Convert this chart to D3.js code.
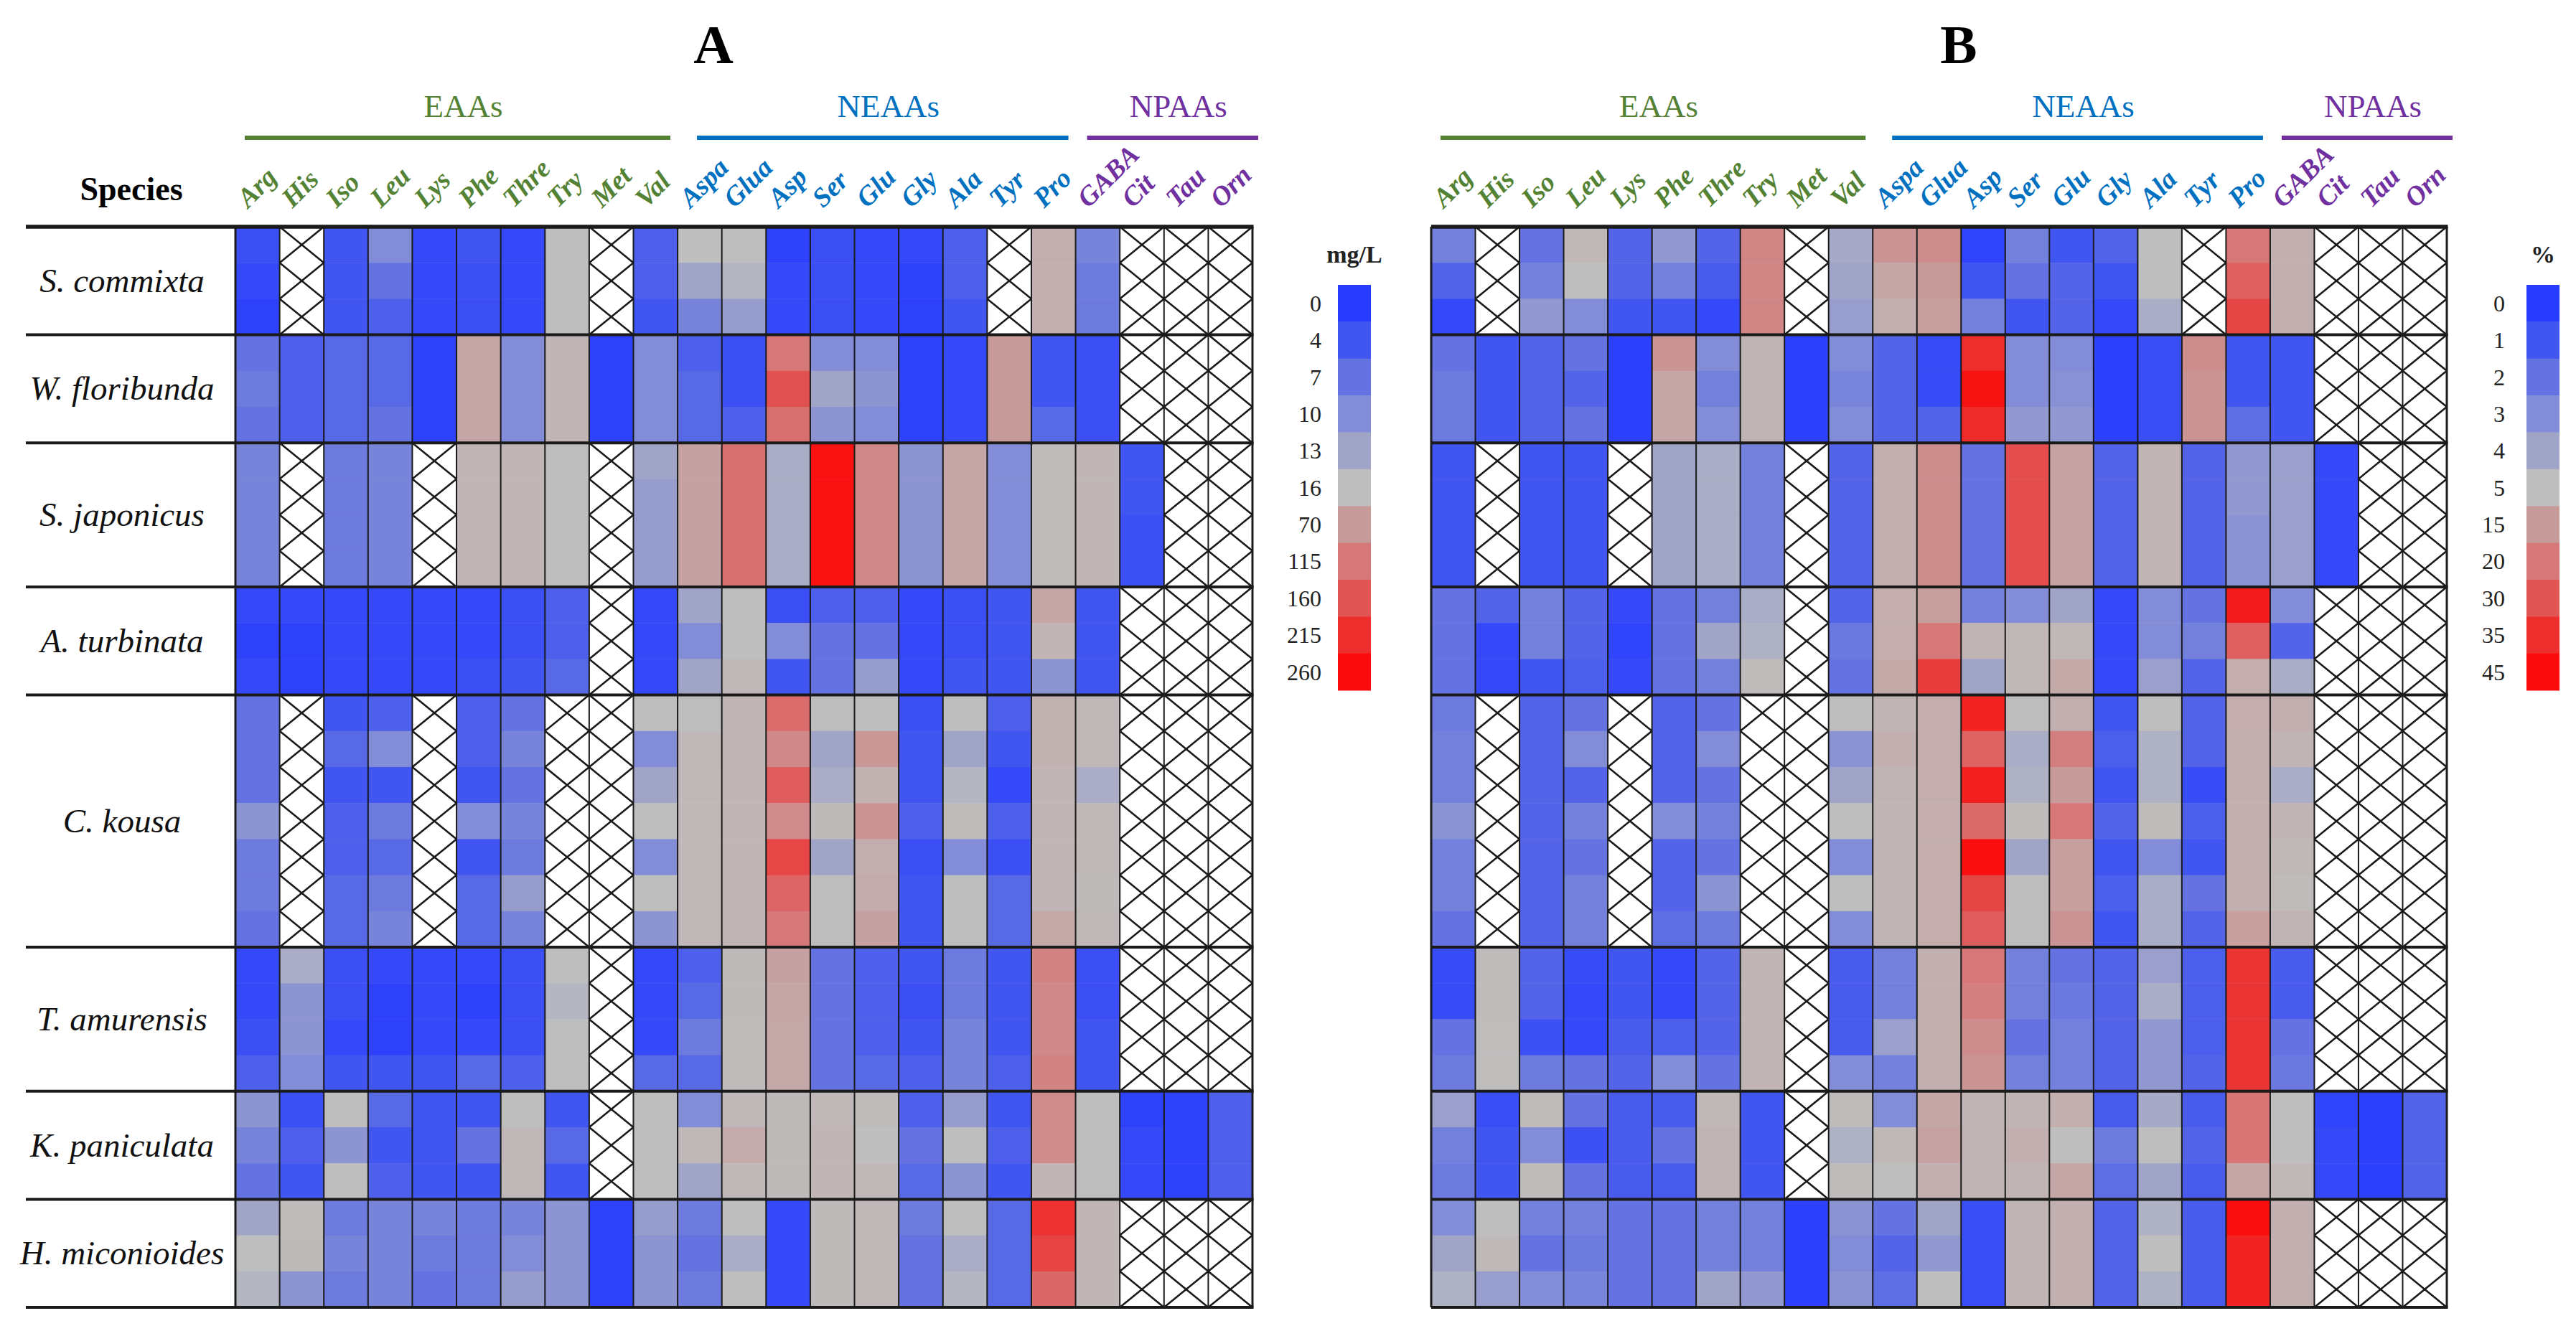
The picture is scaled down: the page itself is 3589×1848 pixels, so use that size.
<!DOCTYPE html>
<html>
<head>
<meta charset="utf-8">
<script src="https://cdn.jsdelivr.net/npm/d3@7"></script>
<style>
body { margin: 0; background: #fff; }
svg { display: block; }
text { font-family: "Liberation Serif", "Times New Roman", serif; }
</style>
</head>
<body>
<div id="chart"></div>
<script>
// missing value (drawn as crossed cell)
const X = null;

const species = ["S. commixta", "W. floribunda", "S. japonicus", "A. turbinata",
                 "C. kousa", "T. amurensis", "K. paniculata", "H. miconioides"];
const replicates = [3, 3, 4, 3, 7, 4, 3, 3];

const aminoAcids = ["Arg", "His", "Iso", "Leu", "Lys", "Phe", "Thre", "Try", "Met", "Val",
                    "Aspa", "Glua", "Asp", "Ser", "Glu", "Gly", "Ala", "Tyr", "Pro",
                    "GABA", "Cit", "Tau", "Orn"];
const groupNames = ["EAAs", "NEAAs", "NPAAs"];
const groupStart = [0, 10, 19];
const groupEnd = [10, 19, 23];

// legend ticks
const ticksA = [0, 4, 7, 10, 13, 16, 70, 115, 160, 215, 260];
const ticksB = [0, 1, 2, 3, 4, 5, 15, 20, 30, 35, 45];

// A: concentration (mg/L), one row per replicate
const concA = [
  // S. commixta
  [3, X, 4, 10, 2, 4, 2, 16, X, 5, 16, 16, 1, 3, 2, 2, 5, X, 40, 9, X, X, X],
  [2, X, 4, 7, 2, 3, 2, 16, X, 5, 13, 15, 2, 3, 2, 1, 5, X, 40, 8, X, X, X],
  [1, X, 4, 5, 2, 3, 2, 16, X, 4, 9, 12, 2, 3, 2, 1, 4, X, 40, 8, X, X, X],
  // W. floribunda
  [7, 5, 6, 6, 1, 55, 10, 30, 1, 10, 5, 3, 115, 10, 10, 1, 2, 70, 4, 3, X, X, X],
  [8, 5, 6, 6, 1, 55, 10, 30, 1, 10, 6, 3, 165, 13, 11, 1, 2, 70, 4, 3, X, X, X],
  [7, 5, 6, 7, 1, 55, 10, 30, 1, 10, 6, 5, 125, 11, 10, 1, 2, 70, 6, 3, X, X, X],
  // S. japonicus
  [9, X, 8, 9, X, 30, 30, 18, X, 13, 60, 125, 14, 255, 95, 11, 55, 10, 20, 28, 4, X, X],
  [9, X, 8, 9, X, 30, 30, 18, X, 12, 60, 125, 14, 255, 95, 11, 55, 10, 20, 28, 4, X, X],
  [9, X, 8, 9, X, 30, 30, 18, X, 12, 60, 125, 14, 255, 95, 11, 55, 10, 20, 28, 3, X, X],
  [9, X, 8, 9, X, 30, 30, 18, X, 12, 60, 125, 14, 255, 95, 11, 55, 10, 20, 28, 3, X, X],
  // A. turbinata
  [2, 2, 2, 2, 2, 2, 3, 5, X, 2, 13, 16, 3, 5, 5, 2, 3, 4, 55, 4, X, X, X],
  [1, 1, 2, 2, 2, 2, 3, 5, X, 2, 10, 16, 10, 7, 7, 2, 3, 4, 30, 4, X, X, X],
  [2, 1, 2, 2, 2, 3, 4, 6, X, 2, 13, 25, 4, 7, 12, 2, 4, 4, 11, 4, X, X, X],
  // C. kousa
  [7, X, 4, 5, X, 5, 7, X, X, 16, 17, 28, 130, 17, 16, 3, 16, 5, 35, 25, X, X, X],
  [7, X, 6, 10, X, 5, 9, X, X, 10, 25, 30, 95, 13, 75, 4, 13, 4, 35, 25, X, X, X],
  [7, X, 4, 4, X, 4, 7, X, X, 13, 25, 28, 150, 14, 35, 4, 15, 2, 30, 14, X, X, X],
  [11, X, 5, 8, X, 10, 9, X, X, 16, 25, 30, 90, 22, 80, 5, 20, 5, 30, 25, X, X, X],
  [8, X, 5, 6, X, 4, 8, X, X, 10, 25, 30, 180, 13, 40, 3, 10, 3, 30, 25, X, X, X],
  [8, X, 6, 8, X, 6, 12, X, X, 16, 25, 30, 140, 18, 45, 4, 16, 6, 30, 22, X, X, X],
  [7, X, 6, 9, X, 6, 9, X, X, 11, 25, 30, 115, 17, 60, 4, 16, 6, 50, 25, X, X, X],
  // T. amurensis
  [2, 14, 3, 2, 2, 2, 3, 16, X, 2, 5, 22, 60, 7, 5, 4, 8, 4, 100, 3, X, X, X],
  [2, 11, 3, 1, 2, 1, 3, 15, X, 2, 6, 22, 55, 7, 5, 3, 8, 4, 95, 3, X, X, X],
  [3, 11, 2, 1, 2, 2, 3, 16, X, 2, 8, 20, 50, 7, 5, 4, 9, 4, 95, 4, X, X, X],
  [5, 10, 4, 4, 4, 6, 5, 16, X, 6, 6, 20, 50, 7, 6, 5, 9, 5, 100, 4, X, X, X],
  // K. paniculata
  [11, 3, 16, 6, 4, 4, 17, 4, X, 16, 10, 25, 22, 25, 20, 5, 12, 4, 90, 17, 1, 1, 5],
  [9, 5, 11, 4, 4, 7, 25, 6, X, 16, 25, 45, 22, 30, 16, 7, 16, 5, 90, 17, 2, 1, 5],
  [7, 4, 16, 5, 4, 4, 25, 4, X, 16, 13, 25, 22, 28, 25, 6, 11, 4, 30, 18, 2, 1, 5],
  // H. miconioides
  [13, 20, 8, 9, 9, 8, 9, 11, 1, 12, 8, 16, 2, 22, 25, 8, 16, 6, 210, 28, X, X, X],
  [16, 22, 9, 9, 8, 8, 10, 11, 1, 11, 7, 14, 2, 22, 25, 7, 14, 6, 185, 28, X, X, X],
  [15, 11, 8, 9, 7, 8, 12, 11, 1, 11, 8, 16, 2, 22, 25, 7, 15, 6, 135, 28, X, X, X]
];

// B: relative content (%)
const percentB = [
  // S. commixta
  [2.5, X, 2, 7, 1.5, 3.5, 1.5, 18, X, 4.2, 16, 17, 0.3, 2.5, 1, 1.5, 5, X, 20, 9, X, X, X],
  [1.5, X, 2.5, 5, 1.5, 2.5, 1.2, 18, X, 4, 12, 15, 1, 2, 1.5, 1, 5, X, 27, 9, X, X, X],
  [0.5, X, 3.5, 3, 1, 1, 0.5, 18, X, 3.7, 9, 14, 2.5, 1, 1.5, 0.5, 4.3, X, 32, 9, X, X, X],
  // W. floribunda
  [2, 1, 1.5, 2, 0.2, 16, 3, 8, 0.2, 3, 1.5, 0.6, 35, 3, 3, 0.2, 0.7, 17, 1, 1, X, X, X],
  [2.3, 1, 1.5, 1.5, 0.2, 12, 2.5, 8, 0.2, 2.7, 1.5, 0.6, 43, 3, 3.2, 0.2, 0.7, 16, 1, 1, X, X, X],
  [2.3, 1, 1.5, 2, 0.2, 12, 3, 8, 0.2, 3, 1.5, 1.5, 36, 3.5, 3.5, 0.2, 0.7, 16, 1.8, 1, X, X, X],
  // S. japonicus
  [1, X, 1, 1, X, 4, 4.3, 2.5, X, 1.5, 9, 17, 2, 31, 13, 1.5, 8, 1.5, 3.5, 3.8, 0.5, X, X],
  [1, X, 1, 1, X, 4, 4.3, 2.5, X, 1.5, 9, 17, 2, 31, 13, 1.5, 8, 1.5, 3.5, 3.8, 0.5, X, X],
  [1, X, 1, 1, X, 4, 4.3, 2.5, X, 1.5, 9, 17, 2, 31, 13, 1.5, 8, 1.5, 3.3, 3.8, 0.5, X, X],
  [1, X, 1, 1, X, 4, 4.3, 2.5, X, 1.5, 9, 17, 2, 31, 13, 1.5, 8, 1.5, 3.3, 3.8, 0.5, X, X],
  // A. turbinata
  [2, 1.5, 2.5, 1.5, 0.5, 2, 2.5, 4.3, X, 1.5, 10, 14, 2.5, 3, 4, 0.5, 3, 2, 40, 3, X, X, X],
  [2, 0.5, 2.5, 1.5, 0.3, 2, 4, 4.5, X, 2.2, 10, 20, 8, 7, 7, 0.5, 3, 2.5, 27, 1.5, X, X, X],
  [2, 0.5, 1, 1.3, 0.5, 2, 2.5, 6, X, 2, 11, 33, 4, 7, 11, 0.5, 3.8, 1.5, 10, 4.3, X, X, X],
  // C. kousa
  [2.3, X, 1.5, 2, X, 1.5, 2, X, X, 5, 8, 10, 38, 5, 9, 1, 5, 1.5, 10, 9, X, X, X],
  [2.5, X, 1.5, 3, X, 1.5, 3, X, X, 3.3, 9, 10, 26, 4.3, 19, 1.3, 4.5, 1.5, 9, 8, X, X, X],
  [2.5, X, 1.5, 1.5, X, 1.5, 2, X, X, 4, 8, 10, 39, 4.5, 15, 1, 4.5, 0.6, 9, 4.3, X, X, X],
  [3.3, X, 1.5, 2.5, X, 3, 2.5, X, X, 5, 8, 10, 24, 6, 20, 1.5, 6, 1.3, 9, 8, X, X, X],
  [2.5, X, 1.5, 2, X, 1.5, 2, X, X, 3, 8, 10, 44, 4, 14, 1, 3, 1, 9, 7, X, X, X],
  [2.5, X, 1.5, 2.5, X, 1.5, 3.3, X, X, 5, 8, 10, 32, 5, 14, 1.3, 4.3, 2, 9, 6, X, X, X],
  [2, X, 1.5, 2.5, X, 1.8, 2.3, X, X, 3, 8, 10, 28, 5, 16, 1, 4.3, 1.5, 14, 8, X, X, X],
  // T. amurensis
  [0.6, 6, 1.5, 0.6, 1, 0.5, 1.5, 8, X, 1.2, 2.5, 9, 20, 2.5, 2, 1.5, 3.8, 1.3, 34, 1.2, X, X, X],
  [0.6, 6, 1.5, 0.5, 1, 0.5, 1.5, 8, X, 1.2, 2.5, 9, 19, 2.5, 2.2, 1.5, 4.3, 1.3, 34, 1.2, X, X, X],
  [2, 5.5, 0.8, 0.5, 1.2, 1.3, 1.5, 8, X, 1.2, 3.8, 9, 17, 2, 2.5, 1.5, 3.5, 1.3, 34, 2, X, X, X],
  [2.3, 5.5, 2.3, 2, 1.5, 3, 2, 8, X, 3, 2.5, 9, 16, 2.5, 2.5, 1.5, 3.5, 1.5, 34, 2.2, X, X, X],
  // K. paniculata
  [3.8, 0.7, 6, 2, 1.2, 1.2, 7, 1, X, 6, 3, 12, 8, 8, 9, 1.2, 4.2, 1.2, 21, 5, 0.3, 0.2, 1.5],
  [2.5, 1, 3, 0.8, 1.2, 2, 8, 1, X, 4.5, 7, 13, 8, 9, 5, 2.3, 5, 1.5, 21, 5, 0.5, 0.2, 1.5],
  [2.3, 1, 6, 2, 1.2, 1.2, 8, 1, X, 6, 5, 9, 8, 8, 12, 1.8, 4, 1.2, 12, 7, 0.5, 0.2, 1.5],
  // H. miconioides
  [3, 5, 2.5, 2.5, 2, 2, 2.5, 2.5, 0.2, 3.3, 2, 4, 0.7, 8, 9, 1.5, 4.5, 1.2, 44, 9, X, X, X],
  [4, 6.5, 2, 2.3, 2, 2, 2.5, 2.5, 0.2, 3, 1.5, 3.5, 0.7, 8, 9, 1.5, 5, 1.2, 38, 9, X, X, X],
  [4.5, 3.7, 3, 2.7, 2, 2, 4, 3.5, 0.2, 3.3, 1.8, 5, 0.7, 8, 9, 1.5, 4.5, 1.2, 38, 9, X, X, X]
];

// Styles
var legendColors = ["#283cff", "#4155f0", "#6473e1", "#828cd7", "#a0a5c8", "#bebebe",
                    "#c89b9b", "#d77878", "#e15555", "#ee2d2d", "#fa0c0c"];
var groupColors = ["#548235", "#0070c0", "#7030a0"];
var lineColor = "#1a1a1a";

var width = 3589, height = 1848;

var svg = d3.select("#chart")
            .append("svg")
            .attr("width", width)
            .attr("height", height);

// Rows (shared by both panels)
var rowTop = 316, rowBottom = 1822;
var nRows = d3.sum(replicates);
var y = d3.scaleLinear().domain([0, nRows]).range([rowTop, rowBottom]);
var speciesStart = [0].concat(Array.from(d3.cumsum(replicates)));

function groupOf(j) {
    for (let g = 0; g < groupNames.length; ++g) {
        if (j >= groupStart[g] && j < groupEnd[g]) return g;
    }
    return 0;
}

function drawPanel(p) {
    var g = svg.append("g");

    var x = d3.scaleBand().domain(aminoAcids).range([p.left, p.right]);
    var bw = x.bandwidth();

    var color = d3.scaleLinear()
                  .domain(p.ticks)
                  .range(legendColors)
                  .interpolate(d3.interpolateRgb)
                  .clamp(true);

    var cells = [];
    p.values.forEach(function(row, i) {
        row.forEach(function(v, j) { cells.push({r: i, aa: aminoAcids[j], v: v}); });
    });

    // coloured cells
    g.append("g").selectAll("rect")
     .data(cells.filter(d => d.v !== null))
     .enter().append("rect")
     .attr("x", d => x(d.aa))
     .attr("y", d => y(d.r))
     .attr("width", bw + 0.5)
     .attr("height", y(1) - y(0) + 0.5)
     .attr("fill", d => color(d.v));

    // missing cells: white with a cross
    var miss = g.append("g").selectAll("g")
                .data(cells.filter(d => d.v === null))
                .enter().append("g");
    miss.append("rect")
        .attr("x", d => x(d.aa))
        .attr("y", d => y(d.r))
        .attr("width", bw)
        .attr("height", y(1) - y(0))
        .attr("fill", "#fff");
    miss.append("path")
        .attr("d", function(d) {
            var x0 = x(d.aa), x1 = x0 + bw, y0 = y(d.r), y1 = y(d.r + 1);
            return "M" + x0 + "," + y0 + "L" + x1 + "," + y1 + "M" + x1 + "," + y0 + "L" + x0 + "," + y1;
        })
        .attr("stroke", lineColor)
        .attr("stroke-width", 2.6)
        .attr("fill", "none");

    // column lines
    g.append("g").selectAll("line")
     .data(d3.range(aminoAcids.length + 1))
     .enter().append("line")
     .attr("x1", j => p.left + j * bw).attr("x2", j => p.left + j * bw)
     .attr("y1", rowTop).attr("y2", rowBottom)
     .attr("stroke", lineColor)
     .attr("stroke-width", j => (j === 0 || j === aminoAcids.length) ? 3 : 2);

    // species separators
    g.append("g").selectAll("line")
     .data(speciesStart)
     .enter().append("line")
     .attr("x1", p.frameLeft).attr("x2", p.right + 1.5)
     .attr("y1", k => y(k)).attr("y2", k => y(k))
     .attr("stroke", lineColor)
     .attr("stroke-width", (k, i) => i === 0 ? 5.5 : 4);

    // species names
    if (p.showSpecies) {
        g.append("g").selectAll("text")
         .data(species)
         .enter().append("text")
         .attr("x", 170)
         .attr("y", (s, i) => (y(speciesStart[i]) + y(speciesStart[i + 1])) / 2)
         .attr("dy", "0.33em")
         .attr("text-anchor", "middle")
         .style("font-style", "italic")
         .style("font-size", "47px")
         .attr("fill", "#111")
         .text(s => s);

        g.append("text")
         .attr("x", 183).attr("y", 279)
         .attr("text-anchor", "middle")
         .style("font-weight", "bold")
         .style("font-size", "46px")
         .text("Species");
    }

    // column labels
    g.append("g").selectAll("text")
     .data(aminoAcids)
     .enter().append("text")
     .attr("transform", aa => "translate(" + (x(aa) + bw / 2 - 13) + ",291) rotate(-45)")
     .style("font-weight", "bold")
     .style("font-style", "italic")
     .style("font-size", "38px")
     .attr("fill", (aa, j) => groupColors[groupOf(j)])
     .text(aa => aa);

    // group lines and labels
    var gx0 = [13, 27, 16], gx1 = [-10, -10, 8];
    groupNames.forEach(function(name, k) {
        var a = p.left + groupStart[k] * bw + gx0[k];
        var b = p.left + groupEnd[k] * bw + gx1[k];
        g.append("line")
         .attr("x1", a).attr("x2", b)
         .attr("y1", 192).attr("y2", 192)
         .attr("stroke", groupColors[k])
         .attr("stroke-width", 6);
        g.append("text")
         .attr("x", (a + b) / 2 + 8).attr("y", 163)
         .attr("text-anchor", "middle")
         .style("font-size", "45px")
         .attr("fill", groupColors[k])
         .text(name);
    });

    // title
    g.append("text")
     .attr("x", p.titleX).attr("y", 88)
     .attr("text-anchor", "middle")
     .style("font-weight", "bold")
     .style("font-size", "77px")
     .text(p.title);

    // legend
    var lg = g.append("g");
    var sw = d3.scaleBand().domain(d3.range(p.ticks.length)).range([397, 962]);
    lg.selectAll("rect")
      .data(p.ticks)
      .enter().append("rect")
      .attr("x", p.legendX)
      .attr("y", (t, i) => sw(i))
      .attr("width", 46)
      .attr("height", sw.bandwidth() + 0.5)
      .attr("fill", t => color(t));
    lg.selectAll("text.tick")
      .data(p.ticks)
      .enter().append("text")
      .attr("class", "tick")
      .attr("x", p.legendLabelX)
      .attr("y", (t, i) => sw(i) + sw.bandwidth() / 2)
      .attr("dy", "0.35em")
      .attr("text-anchor", "end")
      .style("font-size", "32px")
      .attr("fill", "#222")
      .text(t => t);
    lg.append("text")
      .attr("x", p.legendX + 23).attr("y", 366)
      .attr("text-anchor", "middle")
      .style("font-weight", "bold")
      .style("font-size", "34px")
      .attr("fill", "#222")
      .text(p.unit);
}

drawPanel({values: concA, ticks: ticksA, left: 328, right: 1745, frameLeft: 36,
           showSpecies: true, title: "A", titleX: 994, unit: "mg/L",
           legendX: 1864, legendLabelX: 1841});

drawPanel({values: percentB, ticks: ticksB, left: 1994, right: 3409, frameLeft: 1994,
           showSpecies: false, title: "B", titleX: 2729, unit: "%",
           legendX: 3520, legendLabelX: 3490});
</script>
</body>
</html>
